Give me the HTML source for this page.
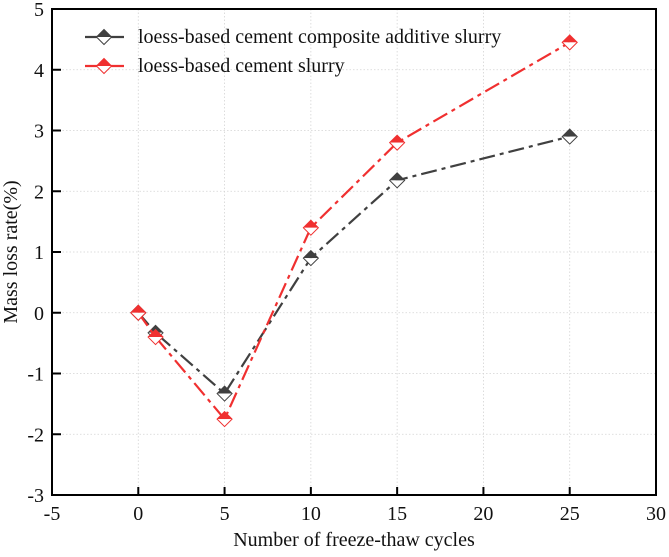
<!DOCTYPE html>
<html><head><meta charset="utf-8"><style>
body{margin:0;background:#fff;}
svg text{font-family:"Liberation Serif",serif;fill:#111;}
</style></head><body>
<svg id="chart" width="669" height="552">
<g id="grid"></g>
<g id="series"></g>
<g id="axes"></g>
<g id="legend"></g>
</svg>
<script>
const xTicks=[-5,0,5,10,15,20,25,30];
const yTicks=[-3,-2,-1,0,1,2,3,4,5];
const cycles=[0,1,5,10,15,25];
const compositeValues=[0,-0.33,-1.33,0.9,2.18,2.9];
const cementValues=[0,-0.4,-1.75,1.4,2.8,4.45];
const seriesNames=["loess-based cement composite additive slurry","loess-based cement slurry"];
const L=52,R=656,T=9,B=495;
function sx(v){return L+(v+5)/35*(R-L);}
function sy(v){return B-(v+3)/8*(B-T);}
const NS="http://www.w3.org/2000/svg";
function mk(p,t,a){const e=document.createElementNS(NS,t);for(const k in a)e.setAttribute(k,a[k]);p.appendChild(e);return e;}
const grid=document.getElementById('grid'),axes=document.getElementById('axes'),ser=document.getElementById('series'),leg=document.getElementById('legend');
xTicks.forEach(v=>{const x=sx(v);
 if(v>-5&&v<30){const g=mk(grid,'line',{x1:x,x2:x,y1:T,y2:B,stroke:'#d4d4d4','stroke-width':0.8,'stroke-dasharray':'1.5,2'});
 
 const t=mk(axes,'line',{x1:x,x2:x,y1:B,y2:B-8,stroke:'#000','stroke-width':2});
 }
 const l=mk(axes,'text',{x:x,y:B+25,'text-anchor':'middle','font-size':20});l.textContent=v;
 });
yTicks.forEach(v=>{const y=sy(v);
 if(v>-3&&v<5){const g=mk(grid,'line',{x1:L,x2:R,y1:y,y2:y,stroke:'#d4d4d4','stroke-width':0.8,'stroke-dasharray':'1.5,2'});
 
 const t=mk(axes,'line',{x1:L,x2:L+9,y1:y,y2:y,stroke:'#000','stroke-width':2});
 }
 const l=mk(axes,'text',{x:44,y:y+7,'text-anchor':'end','font-size':20});l.textContent=v;
 });
const fr=mk(axes,'rect',{x:L,y:T,width:R-L,height:B-T,fill:'none',stroke:'#000','stroke-width':2});

const xt=mk(axes,'text',{x:(L+R)/2,y:546,'text-anchor':'middle','font-size':20});xt.textContent='Number of freeze-thaw cycles';

const yt=mk(axes,'text',{x:0,y:0,'text-anchor':'middle','font-size':20,transform:'translate(17,'+sy(1)+') rotate(-90)'});yt.textContent='Mass loss rate(%)';

function diamond(p,x,y,c){const s=7.5;
 const g=mk(p,'g',{});
 mk(g,'path',{d:`M${x-s},${y}L${x},${y-s}L${x+s},${y}Z`,fill:c});
 mk(g,'path',{d:`M${x-s},${y}L${x},${y+s}L${x+s},${y}Z`,fill:'#fff'});
 mk(g,'path',{d:`M${x-s},${y}L${x},${y-s}L${x+s},${y}L${x},${y+s}Z`,fill:'none',stroke:c,'stroke-width':1});
 return g;}
const cols=['#404040','#f03030'];
[compositeValues,cementValues].forEach((vals,i)=>{
 const pts=cycles.map((c,j)=>sx(c)+','+sy(vals[j])).join(' ');
 const pl=mk(ser,'polyline',{points:pts,fill:'none',stroke:cols[i],'stroke-width':2.2,'stroke-dasharray':'16,5,4,5'});
 
 cycles.forEach((c,j)=>{const d=diamond(ser,sx(c),sy(vals[j]),cols[i]);
  });
 const ly=37+i*29;
 const ll=mk(leg,'line',{x1:85,x2:124,y1:ly,y2:ly,stroke:cols[i],'stroke-width':2.2});
 
 const lm=diamond(leg,104,ly,cols[i]);
 const lt=mk(leg,'text',{x:138,y:ly+6,'font-size':20});lt.textContent=seriesNames[i];
 
});
</script>
</body></html>
